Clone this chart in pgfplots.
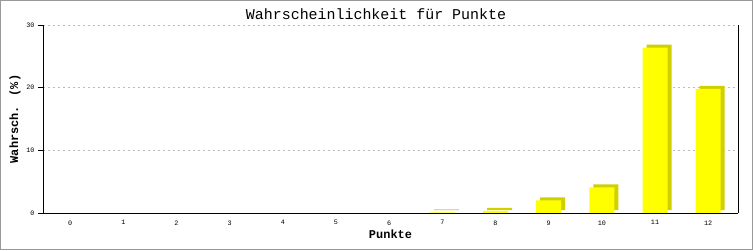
\documentclass[border=0pt]{standalone}
\usepackage{pgfplots}
\pgfplotsset{compat=1.18}
\usepackage{fontspec}
\setmainfont{Liberation Mono}
\definecolor{baryellow}{HTML}{FFFF00}
\definecolor{barshadow}{HTML}{D0D000}
\definecolor{framegray}{HTML}{999999}
\definecolor{gridgray}{HTML}{BBBBBB}
\begin{document}
\begin{tikzpicture}[x=1bp,y=1bp]
\useasboundingbox (0,0) rectangle (753,250);
\fill[white] (0,0) rectangle (753,250);
\draw[framegray,line width=1.5bp] (0.75,0.75) rectangle (752.25,249.25);
\node[font=\fontsize{15}{16}\selectfont] at (376,236) {Wahrscheinlichkeit für Punkte};
\begin{axis}[
  at={(43bp,37bp)}, anchor=south west,
  scale only axis, width=695bp, height=188bp,
  xmin=-0.51, xmax=12.56, ymin=0, ymax=30,
  axis x line*=bottom, axis y line*=left,
  axis line style={black, line width=0.8bp, -},
  xtick={0,...,12}, ytick={0,10,20,30},
  major x tick style={draw=none},
  major y tick style={black, line width=0.8bp},
  tick align=outside, major tick length=5bp,
  ymajorgrids, grid style={gridgray, dash pattern=on 2bp off 3bp, line width=0.6bp},
  /pgf/number format/assume math mode=true,
  tick label style={font=\fontsize{6.8}{8}\selectfont},
  xticklabel style={yshift=1bp},
  xlabel={\bfseries Punkte}, ylabel={\bfseries Wahrsch. (\%)},
  label style={font=\bfseries\fontsize{12}{13}\selectfont},
  xlabel style={yshift=2bp},
  ylabel style={yshift=-1bp},
  clip=false,
]
\addplot[ybar, bar width=25bp, fill=barshadow, draw=none, xshift=4bp, yshift=3bp] coordinates {
(7,0.12) (8,0.35) (9,2.0) (10,4.1) (11,26.4) (12,19.8)};
\addplot[ybar, bar width=25bp, fill=baryellow, draw=none] coordinates {
(0,0) (1,0) (2,0) (3,0) (4,0) (5,0) (6,0) (7,0.12) (8,0.35) (9,2.0) (10,4.1) (11,26.4) (12,19.8)};
\draw[black, line width=0.8bp] (rel axis cs:1,0) -- (rel axis cs:1,1);
\draw[black, line width=0.8bp] (rel axis cs:0,0) -- (rel axis cs:1,0);
\end{axis}
\end{tikzpicture}
\end{document}
